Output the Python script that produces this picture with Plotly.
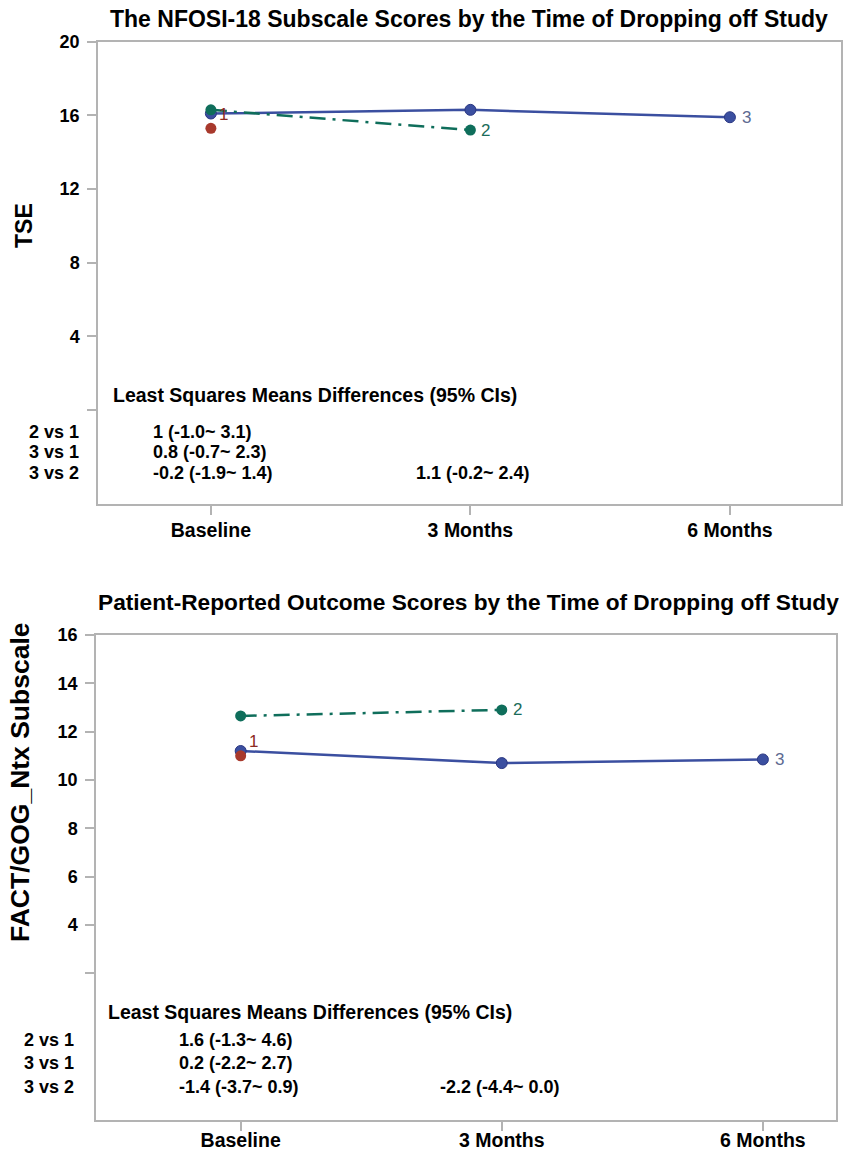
import plotly.graph_objects as go

W, H = 848, 1161

# ---------------- data ----------------
timepoints = ["Baseline", "3 Months", "6 Months"]

# Top panel: NFOSI-18 TSE subscale, by dropout group (1, 2, 3)
tse_g1 = [15.3]
tse_g2 = [16.3, 15.2]
tse_g3 = [16.1, 16.3, 15.9]

# Bottom panel: FACT/GOG_Ntx subscale
ntx_g1 = [11.0]
ntx_g2 = [12.65, 12.9]
ntx_g3 = [11.2, 10.7, 10.85]

comparisons = ["2 vs 1", "3 vs 1", "3 vs 2"]
tse_lsmd_baseline = ["1 (-1.0~ 3.1)", "0.8 (-0.7~ 2.3)", "-0.2 (-1.9~ 1.4)"]
tse_lsmd_3m = ["", "", "1.1 (-0.2~ 2.4)"]
ntx_lsmd_baseline = ["1.6 (-1.3~ 4.6)", "0.2 (-2.2~ 2.7)", "-1.4 (-3.7~ 0.9)"]
ntx_lsmd_3m = ["", "", "-2.2 (-4.4~ 0.0)"]

tse_ticks = [0, 4, 8, 12, 16, 20]
tse_ticktext = ["", "4", "8", "12", "16", "20"]
ntx_ticks = [2, 4, 6, 8, 10, 12, 14, 16]
ntx_ticktext = ["", "4", "6", "8", "10", "12", "14", "16"]

titles = ["The NFOSI-18 Subscale Scores by the Time of Dropping off Study",
          "Patient-Reported Outcome Scores by the Time of Dropping off Study"]
ytitles = ["TSE", "FACT/GOG_Ntx Subscale"]

# ---------------- style ----------------
FONT = "Liberation Sans, Arial, sans-serif"
RED, GREEN, BLUE = "#a8392c", "#0f6e5b", "#3b4fa0"
LBL_RED, LBL_GREEN, LBL_BLUE = "#8c2a22", "#1a6b59", "#5d6a92"
FRAME = "#b3b3b3"


def px(x):
    return x / W


def py(y):
    return 1 - y / H


fig = go.Figure()


def add_panel(g1, g2, g3, xa, ya):
    fig.add_trace(go.Scatter(
        x=timepoints[:len(g3)], y=g3, mode="lines+markers", xaxis=xa, yaxis=ya,
        line=dict(color=BLUE, width=2.5),
        marker=dict(size=11, color=BLUE, line=dict(color="#2b3782", width=1)),
        showlegend=False))
    fig.add_trace(go.Scatter(
        x=timepoints[:len(g2)], y=g2, mode="lines+markers", xaxis=xa, yaxis=ya,
        line=dict(color=GREEN, width=2.5, dash="16px,7px,3px,7px"),
        marker=dict(size=11, color=GREEN),
        showlegend=False))
    fig.add_trace(go.Scatter(
        x=timepoints[:len(g1)], y=g1, mode="markers", xaxis=xa, yaxis=ya,
        marker=dict(size=11, color=RED),
        showlegend=False))


add_panel(tse_g1, tse_g2, tse_g3, "x", "y")
add_panel(ntx_g1, ntx_g2, ntx_g3, "x2", "y2")

axis_common = dict(showline=True, linecolor=FRAME, linewidth=1.5, mirror=True,
                   ticks="outside", tickcolor=FRAME, ticklen=9, tickwidth=1.5,
                   showgrid=False, zeroline=False, automargin=False,
                   tickfont=dict(family=FONT, size=18, color="black", weight="bold"))
xfont = dict(family=FONT, size=19.5, color="black", weight="bold")

fig.update_layout(
    width=W, height=H, margin=dict(l=0, r=0, t=0, b=0, autoexpand=False),
    paper_bgcolor="white", plot_bgcolor="white",
    xaxis=dict(axis_common, domain=[px(98), px(841)], anchor="y",
               type="category", categoryarray=timepoints, range=[-0.435, 2.428],
               ticklabelstandoff=-1, tickfont=xfont),
    yaxis=dict(axis_common, domain=[py(504), py(41.7)], anchor="x",
               range=[-5.1, 20], tickvals=tse_ticks, ticktext=tse_ticktext,
               ticklabelstandoff=4),
    xaxis2=dict(axis_common, domain=[px(96), px(836)], anchor="y2",
                type="category", categoryarray=timepoints, range=[-0.554, 2.28],
                ticklabelstandoff=-7, tickfont=xfont),
    yaxis2=dict(axis_common, domain=[py(1120), py(635)], anchor="x2",
                range=[-4.07, 16], tickvals=ntx_ticks, ticktext=ntx_ticktext,
                ticklabelstandoff=4),
)

ann = []
bold = lambda s, c="black": dict(family=FONT, size=s, color=c, weight="bold")

# titles
ann.append(dict(text=titles[0], x=px(469), y=py(19), xref="paper", yref="paper",
                showarrow=False, font=bold(23), xanchor="center", yanchor="middle"))
ann.append(dict(text=titles[1], x=px(468), y=py(602), xref="paper", yref="paper",
                showarrow=False, font=bold(22.7), xanchor="center", yanchor="middle"))
# y axis titles
ann.append(dict(text=ytitles[0], x=px(24), y=py(226), xref="paper", yref="paper",
                showarrow=False, font=bold(23), textangle=-90,
                xanchor="center", yanchor="middle"))
ann.append(dict(text=ytitles[1], x=px(20), y=py(782), xref="paper", yref="paper",
                showarrow=False, font=bold(26.5), textangle=-90,
                xanchor="center", yanchor="middle"))

# series end labels
def end_labels(g1, g2, g3, xa, ya):
    ann.append(dict(text="1", x=timepoints[len(g1) - 1], y=g1[-1], xref=xa, yref=ya,
                    showarrow=False, font=dict(family=FONT, size=17, color=LBL_RED),
                    xanchor="left", yanchor="middle", xshift=6, yshift=14))
    ann.append(dict(text="2", x=timepoints[len(g2) - 1], y=g2[-1], xref=xa, yref=ya,
                    showarrow=False, font=dict(family=FONT, size=17, color=LBL_GREEN),
                    xanchor="left", yanchor="middle", xshift=9))
    ann.append(dict(text="3", x=timepoints[len(g3) - 1], y=g3[-1], xref=xa, yref=ya,
                    showarrow=False, font=dict(family=FONT, size=17, color=LBL_BLUE),
                    xanchor="left", yanchor="middle", xshift=10))


end_labels(tse_g1, tse_g2, tse_g3, "x", "y")
end_labels(ntx_g1, ntx_g2, ntx_g3, "x2", "y2")

# LS means difference tables
def table(header_xy, rows_y, label_right, col_x, col_texts):
    ann.append(dict(text="Least Squares Means Differences (95% CIs)",
                    x=px(header_xy[0]), y=py(header_xy[1]), xref="paper", yref="paper",
                    showarrow=False, font=bold(19.5), xanchor="left", yanchor="middle"))
    for i, lab in enumerate(comparisons):
        ann.append(dict(text=lab, x=px(label_right), y=py(rows_y[i]), xref="paper",
                        yref="paper", showarrow=False, font=bold(18),
                        xanchor="right", yanchor="middle"))
        for cx, texts in zip(col_x, col_texts):
            if texts[i]:
                ann.append(dict(text=texts[i], x=px(cx), y=py(rows_y[i]), xref="paper",
                                yref="paper", showarrow=False, font=bold(18),
                                xanchor="left", yanchor="middle"))


table((111, 395), [431.7, 451.7, 473], 81, [151, 414],
      [tse_lsmd_baseline, tse_lsmd_3m])
table((106, 1011.7), [1040, 1063, 1086.7], 76, [177, 438],
      [ntx_lsmd_baseline, ntx_lsmd_3m])

fig.update_layout(annotations=ann)
fig.write_html("out.html", config={"displayModeBar": False},
               post_script="document.body.style.margin='0px';"
                           "document.body.style.overflow='hidden';")
